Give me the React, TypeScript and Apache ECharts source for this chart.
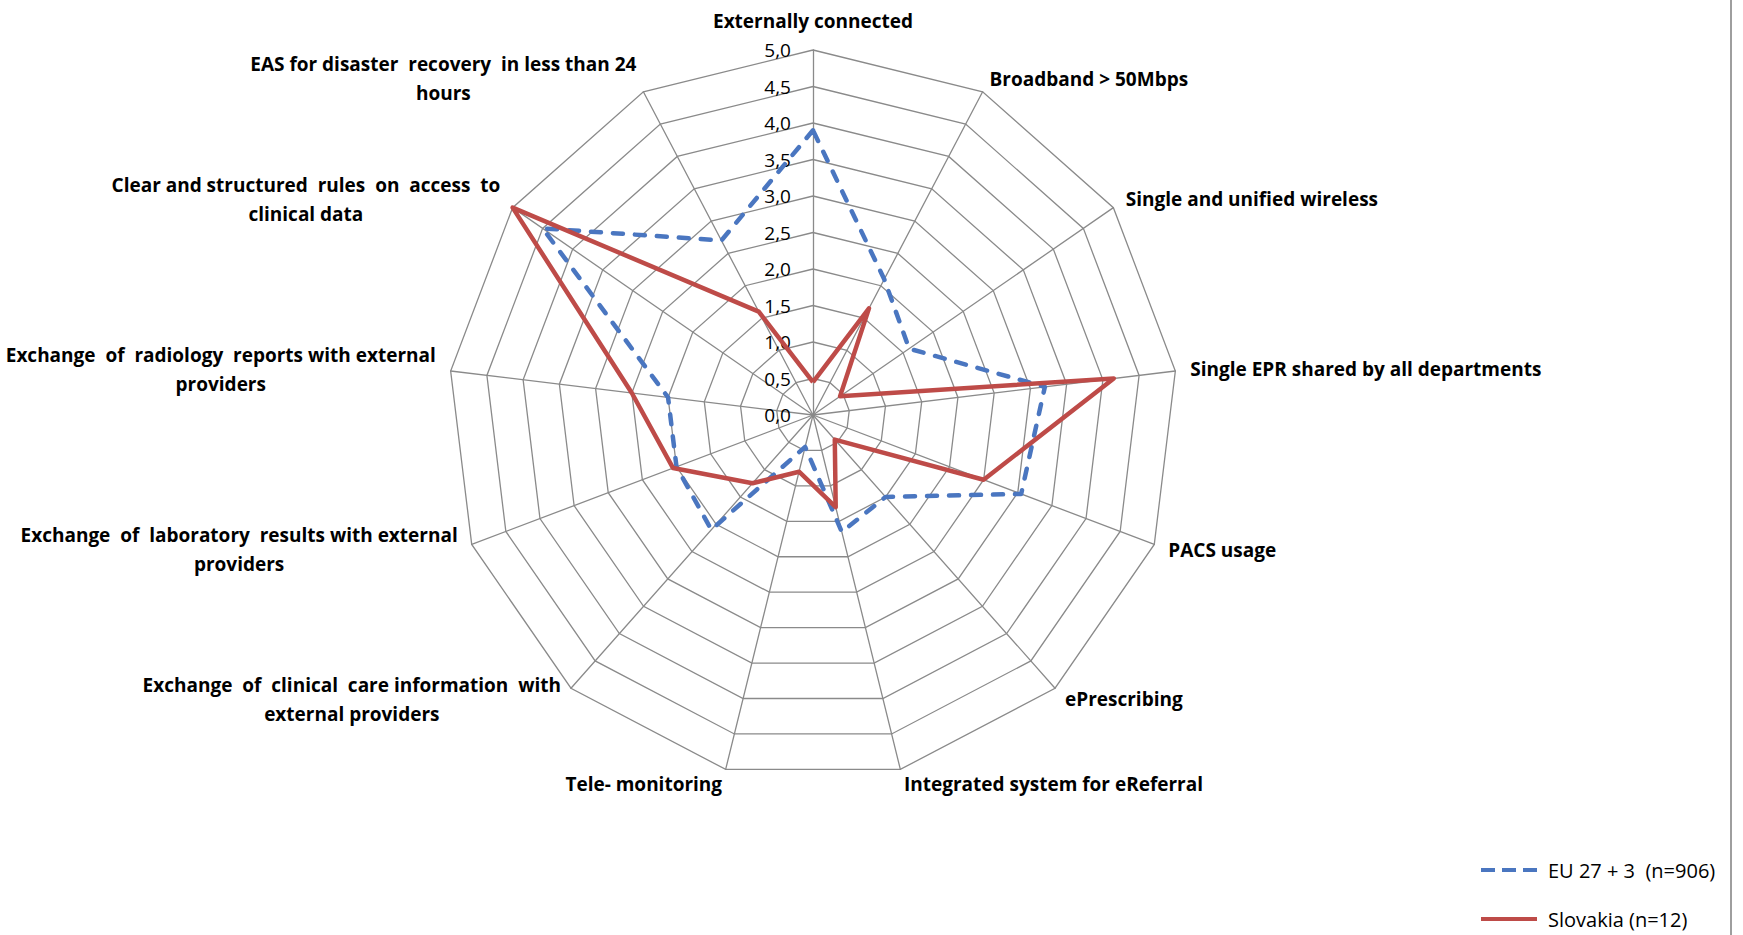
import React, { useEffect, useRef } from "react";
import * as echarts from "echarts";

// Axes in clockwise order, starting at the top
const categories = [
  "Externally connected",
  "Broadband > 50Mbps",
  "Single and unified wireless",
  "Single EPR shared by all departments",
  "PACS usage",
  "ePrescribing",
  "Integrated system for eReferral",
  "Tele- monitoring",
  "Exchange  of  clinical  care information  with\nexternal providers",
  "Exchange  of  laboratory  results with external\nproviders",
  "Exchange  of  radiology  reports with external\nproviders",
  "Clear and structured  rules  on  access  to\nclinical data",
  "EAS for disaster  recovery  in less than 24\nhours",
];

const euValues = [3.9, 2.1, 1.6, 3.2, 3.05, 1.5, 1.65, 0.45, 2.1, 2.0, 2.0, 4.5, 2.7];
const skValues = [0.45, 1.65, 0.45, 4.15, 2.5, 0.45, 1.3, 0.8, 1.25, 2.05, 2.5, 5.0, 1.6];

const seriesNames = ["EU 27 + 3  (n=906)", "Slovakia (n=12)"];
const seriesColors = ["#4A76C0", "#BE4B48"];

const axisMin = 0;
const axisMax = 5;
const axisSplits = 10;

// ECharts lays radar indicators out counter-clockwise; reorder to match clockwise layout
const ccw = <T,>(arr: T[]): T[] => [arr[0], ...arr.slice(1).reverse()];

export default function App() {
  const ref = useRef<HTMLDivElement>(null);

  useEffect(() => {
    if (!ref.current) return;
    const chart = echarts.init(ref.current, null, { renderer: "svg" });
    const font = "'Open Sans', Lato, sans-serif";

    const indicators = ccw(categories).map((name, i) => ({
      name,
      min: axisMin,
      max: axisMax,
      ...(i === 0 ? { axisLabel: { show: true } } : {}),
    }));

    const option: any = {
      animation: false,
      backgroundColor: "#ffffff",
      textStyle: { fontFamily: font },
      radar: {
        center: [813, 415],
        radius: 365,
        startAngle: 90,
        shape: "polygon",
        splitNumber: axisSplits,
        nameGap: 15,
        indicator: indicators,
        axisName: {
          color: "#000",
          fontFamily: font,
          fontSize: 19,
          fontWeight: "bold",
          formatter: (name: string) =>
            name
              .split("\n")
              .map((l) => `{c|${l}}`)
              .join("\n"),
          rich: {
            c: {
              align: "center",
              color: "#000",
              fontFamily: font,
              fontSize: 19,
              fontWeight: "bold",
              lineHeight: 29,
            },
          },
        },
        axisLine: { lineStyle: { color: "#8a8a8a", width: 1.3 } },
        splitLine: { lineStyle: { color: "#8a8a8a", width: 1.3 } },
        splitArea: { show: false },
        axisTick: { show: false },
        axisLabel: {
          show: false,
          margin: 22,
          color: "#000",
          fontFamily: font,
          fontSize: 19,
          padding: [10, 0, 0, 0],
          formatter: (v: number) => v.toFixed(1).replace(".", ","),
        },
      },
      legend: {
        orient: "vertical",
        left: 1481,
        top: 860,
        height: 120,
        padding: 0,
        itemGap: 29,
        itemWidth: 56,
        itemHeight: 5,
        textStyle: { color: "#000", fontSize: 20, fontFamily: font, padding: [0, 0, 0, 6] },
        data: [
          {
            name: seriesNames[0],
            icon: "path://M0,0h14v4h-14z M21,0h14v4h-14z M42,0h14v4h-14z",
          },
          { name: seriesNames[1], icon: "path://M0,0h56v4h-56z" },
        ],
      },
      graphic: [
        {
          type: "line",
          shape: { x1: 1731, y1: 0, x2: 1731, y2: 935 },
          style: { stroke: "#9e9e9e", lineWidth: 2 },
        },
      ],
      series: [
        {
          type: "radar",
          symbol: "none",
          data: [
            {
              name: seriesNames[0],
              value: ccw(euValues),
              itemStyle: { color: seriesColors[0] },
              lineStyle: {
                color: seriesColors[0],
                width: 4.5,
                type: [10, 12],
                cap: "round",
              },
            },
            {
              name: seriesNames[1],
              value: ccw(skValues),
              itemStyle: { color: seriesColors[1] },
              lineStyle: { color: seriesColors[1], width: 4.5 },
            },
          ],
        },
      ],
    };

    chart.setOption(option);
    return () => chart.dispose();
  }, []);

  return (
    <div
      ref={ref}
      style={{ position: "fixed", left: 0, top: 0, width: 1743, height: 935 }}
    />
  );
}
